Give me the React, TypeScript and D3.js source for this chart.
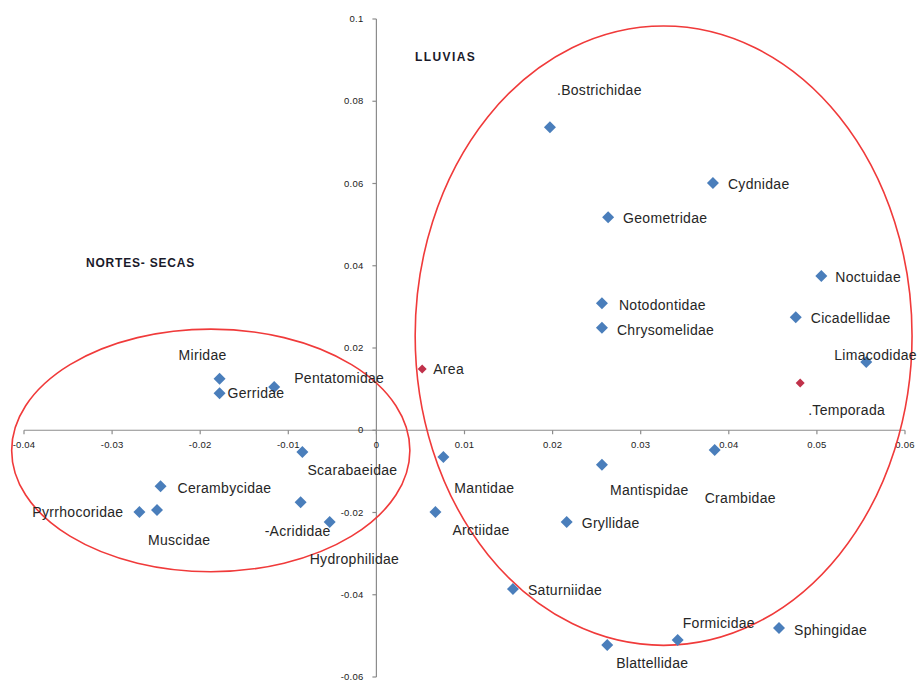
import React from "react";
import * as d3 from "d3";

// Families (blue series) and ordination coordinates
const families = [
  "Bostrichidae", "Cydnidae", "Geometridae", "Noctuidae", "Notodontidae",
  "Chrysomelidae", "Cicadellidae", "Limacodidae", "Mantidae", "Mantispidae",
  "Crambidae", "Arctiidae", "Gryllidae", "Saturniidae", "Formicidae",
  "Sphingidae", "Blattellidae", "Miridae", "Gerridae", "Pentatomidae",
  "Scarabaeidae", "Cerambycidae", "Muscidae", "Pyrrhocoridae", "Acrididae",
  "Hydrophilidae",
];
const familyX = [
  0.0197, 0.0382, 0.0263, 0.0505, 0.0256,
  0.0256, 0.0476, 0.0556, 0.0076, 0.0256,
  0.0384, 0.0067, 0.0216, 0.0155, 0.0342,
  0.0457, 0.0262, -0.0178, -0.0178, -0.0116,
  -0.0084, -0.0245, -0.0249, -0.0269, -0.0086,
  -0.0053,
];
const familyY = [
  0.0737, 0.0601, 0.0518, 0.0375, 0.0309,
  0.0249, 0.0275, 0.0166, -0.0065, -0.0084,
  -0.0048, -0.0199, -0.0223, -0.0386, -0.0510,
  -0.0481, -0.0522, 0.0125, 0.0090, 0.0105,
  -0.0053, -0.0136, -0.0194, -0.0199, -0.0175,
  -0.0223,
];

// Environmental variables (red series)
const variables = ["Area", "Temporada"];
const variableX = [0.0052, 0.0481];
const variableY = [0.0149, 0.0115];

// Axis ticks
const xTicks = [-0.04, -0.03, -0.02, -0.01, 0, 0.01, 0.02, 0.03, 0.04, 0.05, 0.06];
const xTickLabels = ["-0.04", "-0.03", "-0.02", "-0.01", "0", "0.01", "0.02", "0.03", "0.04", "0.05", "0.06"];
const yTicks = [0.1, 0.08, 0.06, 0.04, 0.02, 0, -0.02, -0.04, -0.06];
const yTickLabels = ["0.1", "0.08", "0.06", "0.04", "0.02", "0", "-0.02", "-0.04", "-0.06"];

// Group outlines: [centreX, centreY, radiusX, radiusY] in data units
const groupNames = ["NORTES- SECAS", "LLUVIAS"];
const groupEllipses = [
  [-0.0188, -0.0049, 0.0226, 0.0295],
  [0.0326, 0.023, 0.0282, 0.0753],
];

// Label placement relative to each marker (pixels)
const labelText: Record<string, string> = {
  Bostrichidae: ".Bostrichidae",
  Temporada: ".Temporada",
  Acrididae: "-Acrididae",
};
const labelOffset: Record<string, [number, number, string?]> = {
  Bostrichidae: [7, -32],
  Cydnidae: [15, 6],
  Geometridae: [15, 6],
  Noctuidae: [14, 6],
  Notodontidae: [17, 7],
  Chrysomelidae: [15, 7],
  Cicadellidae: [15, 6],
  Limacodidae: [-32, -2],
  Area: [11, 5],
  Temporada: [8, 32],
  Mantidae: [11, 36],
  Mantispidae: [8, 30],
  Crambidae: [-10, 53],
  Arctiidae: [17, 23],
  Gryllidae: [15, 6],
  Saturniidae: [15, 6],
  Formicidae: [5, -12],
  Sphingidae: [15, 7],
  Blattellidae: [9, 23],
  Miridae: [-41, -19],
  Gerridae: [8, 5],
  Pentatomidae: [20, -4],
  Scarabaeidae: [5, 23],
  Cerambycidae: [17, 7],
  Muscidae: [-9, 35],
  Pyrrhocoridae: [-16, 5, "end"],
  Acrididae: [-36, 34],
  Hydrophilidae: [-20, 42],
};

const W = 918;
const H = 681;
const FONT = "'Liberation Sans', Arial, sans-serif";

export default function App() {
  const x = d3.scaleLinear().domain([-0.04, 0.06]).range([24, 905]);
  const y = d3.scaleLinear().domain([-0.06, 0.1]).range([677, 19]);
  const x0 = x(0);
  const y0 = y(0);

  const diamond = (cx: number, cy: number, r: number) =>
    `M${cx},${cy - r}L${cx + r},${cy}L${cx},${cy + r}L${cx - r},${cy}Z`;

  const renderLabel = (name: string, px: number, py: number) => {
    const off = labelOffset[name] || [10, 5];
    return (
      <text
        key={"l-" + name}
        x={px + off[0]}
        y={py + off[1]}
        textAnchor={off[2] === "end" ? "end" : "start"}
        fontFamily={FONT}
        fontSize={14}
        letterSpacing={0.3}
        fill="#262626"
      >
        {labelText[name] || name}
      </text>
    );
  };

  return (
    <svg
      width={W}
      height={H}
      style={{ position: "absolute", left: 0, top: 0, background: "#fff" }}
    >
      <rect width={W} height={H} fill="#fff" />

      {/* axes */}
      <g stroke="#8c8c8c" strokeWidth={1.2} fill="none">
        <line x1={x(-0.04)} x2={x(0.06)} y1={y0} y2={y0} />
        <line x1={x0} x2={x0} y1={y(0.1)} y2={y(-0.06)} />
        {xTicks.map((t) => (
          <line key={"xt" + t} x1={x(t)} x2={x(t)} y1={y0} y2={y0 + 4} />
        ))}
        {yTicks.map((t) => (
          <line key={"yt" + t} x1={x0 - 4} x2={x0} y1={y(t)} y2={y(t)} />
        ))}
      </g>
      <g fontFamily={FONT} fontSize={9.5} fill="#222" letterSpacing={0.2}>
        {xTicks.map((t, i) => (
          <text key={"xl" + t} x={x(t)} y={y0 + 18} textAnchor="middle">
            {xTickLabels[i]}
          </text>
        ))}
        {yTicks.map((t, i) => (
          <text key={"yl" + t} x={x0 - 13} y={y(t) + 3} textAnchor="end">
            {yTickLabels[i]}
          </text>
        ))}
      </g>

      {/* group outlines */}
      {groupEllipses.map((e, i) => (
        <ellipse
          key={"e" + i}
          cx={x(e[0])}
          cy={y(e[1])}
          rx={x(e[2]) - x(0)}
          ry={y(0) - y(e[3])}
          fill="none"
          stroke="#f03a3a"
          strokeWidth={1.6}
        />
      ))}

      {/* group names */}
      <g fontFamily={FONT} fontSize={12} fontWeight="bold" fill="#1a1a2a">
        <text x={86} y={267} letterSpacing={0.8}>{groupNames[0]}</text>
        <text x={415} y={61} letterSpacing={1.4}>{groupNames[1]}</text>
      </g>

      {/* family markers */}
      {families.map((f, i) => (
        <path key={"m-" + f} d={diamond(x(familyX[i]), y(familyY[i]), 6)} fill="#4a7ebb" />
      ))}
      {variables.map((v, i) => (
        <path key={"v-" + v} d={diamond(x(variableX[i]), y(variableY[i]), 4.5)} fill="#c0314a" />
      ))}

      {/* labels */}
      {families.map((f, i) => renderLabel(f, x(familyX[i]), y(familyY[i])))}
      {variables.map((v, i) => renderLabel(v, x(variableX[i]), y(variableY[i])))}
    </svg>
  );
}
